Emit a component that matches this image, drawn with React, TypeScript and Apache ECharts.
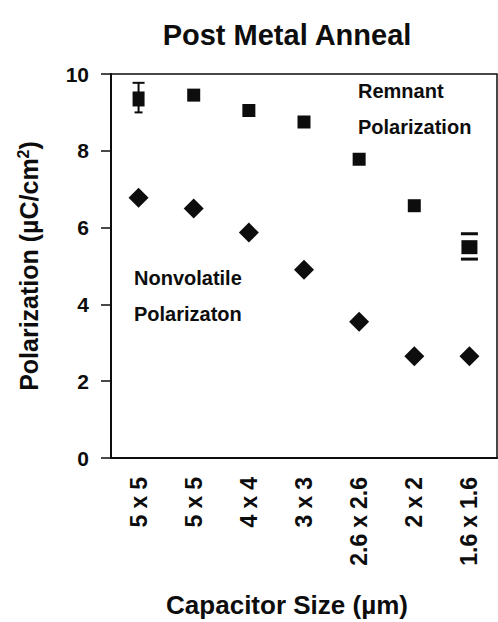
import React, { useEffect, useRef } from "react";
import * as echarts from "echarts";

const categories = ["5 x 5", "5 x 5", "4 x 4", "3 x 3", "2.6 x 2.6", "2 x 2", "1.6 x 1.6"];
const remnant = [9.35, 9.45, 9.05, 8.75, 7.78, 6.57, 5.49];
const nonvolatile = [6.78, 6.5, 5.87, 4.9, 3.55, 2.65, 2.65];
// [category index, low, high]
const errorBars = [
  [0, 9.0, 9.77],
  [6, 5.18, 5.84],
];
const yTicks = [0, 2, 4, 6, 8, 10];

const FONT = "Liberation Sans, Arial, sans-serif";
const INK = "#0d0d0d";

export default function App() {
  const ref = useRef<HTMLDivElement>(null);
  useEffect(() => {
    if (!ref.current) return;
    const chart = echarts.init(ref.current, null, { renderer: "svg" });
    const lbl = { fontFamily: FONT, fontWeight: "bold", fontSize: 23, color: INK };
    chart.setOption({
      animation: false,
      backgroundColor: "#fff",
      grid: {
        left: 111,
        right: 1,
        top: 74,
        bottom: 164,
        show: true,
        borderColor: INK,
        borderWidth: 1.5,
      },
      xAxis: {
        type: "category",
        data: categories,
        boundaryGap: true,
        axisLine: { lineStyle: { color: INK, width: 2 } },
        axisTick: { alignWithLabel: true, length: 8, lineStyle: { color: INK, width: 2 } },
        axisLabel: {
          rotate: 90,
          margin: 19,
          ...lbl,
          formatter: (v: string) =>
            v
              .split(" x ")
              .map((p) => `{n|${p}}`)
              .join("{x|x}"),
          rich: {
            n: { ...lbl },
            x: { ...lbl, padding: [0, 6, 0, 6] },
          },
        },
      },
      yAxis: {
        type: "value",
        min: 0,
        max: 10,
        interval: 2,
        splitLine: { show: false },
        axisLine: { show: true, lineStyle: { color: INK, width: 2 } },
        axisTick: { show: true, length: 10, lineStyle: { color: INK, width: 1.5 } },
        axisLabel: {
          margin: 22,
          fontFamily: FONT,
          fontWeight: "bold",
          fontSize: 21,
          color: INK,
          formatter: (v: number) => (yTicks.includes(v) ? String(v) : ""),
        },
        name: "Polarization (\u00b5C/cm{sup|2})",
        nameLocation: "middle",
        nameGap: 68,
        nameTextStyle: {
          fontFamily: FONT,
          fontWeight: "bold",
          fontSize: 25,
          color: INK,
          rich: {
            sup: { fontFamily: FONT, fontWeight: "bold", fontSize: 16, color: INK, verticalAlign: "top", padding: [0, 0, 12, 0] },
          },
        },
      },
      series: [
        {
          name: "Remnant",
          type: "scatter",
          data: remnant.map((v, i) => ({
            value: v,
            symbolSize: i === 0 ? [12, 15] : i === 6 ? [16, 14] : [13, 13],
          })),
          symbol: "rect",
          itemStyle: { color: INK, opacity: 1 },
        },
        {
          name: "Nonvolatile",
          type: "scatter",
          data: nonvolatile,
          symbol: "diamond",
          symbolSize: [20, 20],
          itemStyle: { color: INK, opacity: 1 },
        },
        {
          name: "Error",
          type: "custom",
          data: errorBars,
          renderItem: (params: any, api: any) => {
            const x = api.value(0);
            const lo = api.coord([x, api.value(1)]);
            const hi = api.coord([x, api.value(2)]);
            const first = params.dataIndex === 0;
            const wTop = first ? 6 : 8.5;
            const wBot = first ? 4 : 8.5;
            const style = { stroke: INK, lineWidth: first ? 2 : 3 };
            const children: any[] = [
              { type: "line", shape: { x1: lo[0] - wBot, y1: lo[1], x2: lo[0] + wBot, y2: lo[1] }, style },
              { type: "line", shape: { x1: hi[0] - wTop, y1: hi[1], x2: hi[0] + wTop, y2: hi[1] }, style },
            ];
            if (first) {
              children.push({ type: "line", shape: { x1: lo[0], y1: lo[1], x2: hi[0], y2: hi[1] }, style });
            }
            return { type: "group", children };
          },
          z: 1,
        },
      ],
      graphic: [
        {
          type: "text",
          x: 287,
          y: 35,
          style: { text: "Post Metal Anneal", fontFamily: FONT, fontWeight: "bold", fontSize: 29, fill: INK, textAlign: "center", textVerticalAlign: "middle" },
        },
        {
          type: "text",
          x: 287,
          y: 605,
          style: { text: "Capacitor Size (\u00b5m)", fontFamily: FONT, fontWeight: "bold", fontSize: 26, fill: INK, textAlign: "center", textVerticalAlign: "middle" },
        },
        { type: "text", x: 358, y: 91, style: { text: "Remnant", fontFamily: FONT, fontWeight: "bold", fontSize: 20, fill: INK, textVerticalAlign: "middle" } },
        { type: "text", x: 358, y: 127, style: { text: "Polarization", fontFamily: FONT, fontWeight: "bold", fontSize: 20, fill: INK, textVerticalAlign: "middle" } },
        { type: "text", x: 134, y: 278, style: { text: "Nonvolatile", fontFamily: FONT, fontWeight: "bold", fontSize: 20, fill: INK, textVerticalAlign: "middle" } },
        { type: "text", x: 134, y: 314, style: { text: "Polarizaton", fontFamily: FONT, fontWeight: "bold", fontSize: 20, fill: INK, textVerticalAlign: "middle" } },
      ],
    });
    return () => chart.dispose();
  }, []);
  return <div ref={ref} style={{ width: 498, height: 622, position: "absolute", left: 0, top: 0 }} />;
}
